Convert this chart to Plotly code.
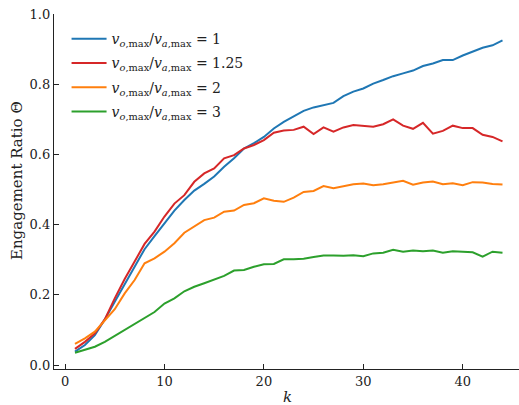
import plotly.graph_objects as go

k = list(range(1, 45))

theta_v1 = [0.038, 0.057, 0.085, 0.13, 0.18, 0.23, 0.28, 0.33, 0.367, 0.405,
            0.44, 0.47, 0.497, 0.516, 0.537, 0.565, 0.589, 0.617, 0.632, 0.65,
            0.674, 0.693, 0.709, 0.724, 0.734, 0.741, 0.747, 0.766, 0.779, 0.788,
            0.802, 0.812, 0.823, 0.831, 0.839, 0.852, 0.859, 0.869, 0.869, 0.882,
            0.892, 0.904, 0.911, 0.925]

theta_v125 = [0.046, 0.066, 0.09, 0.13, 0.19, 0.245, 0.295, 0.345, 0.38, 0.423,
              0.46, 0.484, 0.522, 0.546, 0.56, 0.589, 0.598, 0.617, 0.627, 0.641,
              0.662, 0.668, 0.67, 0.679, 0.658, 0.677, 0.665, 0.677, 0.684, 0.682,
              0.679, 0.686, 0.7, 0.682, 0.673, 0.69, 0.659, 0.667, 0.682, 0.675,
              0.675, 0.656, 0.65, 0.637]

theta_v2 = [0.06, 0.076, 0.095, 0.126, 0.159, 0.204, 0.242, 0.29, 0.304, 0.323,
            0.347, 0.377, 0.394, 0.413, 0.42, 0.437, 0.44, 0.456, 0.461, 0.475,
            0.468, 0.465, 0.477, 0.493, 0.496, 0.51, 0.504, 0.509, 0.515, 0.517,
            0.512, 0.515, 0.52, 0.525, 0.514, 0.52, 0.523, 0.515, 0.518, 0.512,
            0.521, 0.52, 0.516, 0.514]

theta_v3 = [0.035, 0.043, 0.052, 0.066, 0.083, 0.10, 0.117, 0.133, 0.151, 0.175,
            0.19, 0.21, 0.223, 0.233, 0.244, 0.254, 0.269, 0.271, 0.28, 0.287,
            0.288, 0.301, 0.301, 0.303, 0.308, 0.312, 0.312, 0.311, 0.313, 0.31,
            0.318, 0.32, 0.328, 0.323, 0.326, 0.324, 0.326, 0.32, 0.324, 0.322,
            0.321, 0.309, 0.323, 0.32]

series_names = [
    "<i>v</i><sub><i>o</i>,max</sub>/<i>v</i><sub><i>a</i>,max</sub> = 1",
    "<i>v</i><sub><i>o</i>,max</sub>/<i>v</i><sub><i>a</i>,max</sub> = 1.25",
    "<i>v</i><sub><i>o</i>,max</sub>/<i>v</i><sub><i>a</i>,max</sub> = 2",
    "<i>v</i><sub><i>o</i>,max</sub>/<i>v</i><sub><i>a</i>,max</sub> = 3",
]
series_values = [theta_v1, theta_v125, theta_v2, theta_v3]
colors = ["#1f77b4", "#d62728", "#ff7f0e", "#2ca02c"]

x_ticks = [0, 10, 20, 30, 40]
y_ticks = [0.0, 0.2, 0.4, 0.6, 0.8, 1.0]
y_tick_labels = ["0.0", "0.2", "0.4", "0.6", "0.8", "1.0"]

font_family = "DejaVu Serif, Liberation Serif, serif"

fig = go.Figure()
for i, (name, vals, c) in enumerate(zip(series_names, series_values, colors)):
    fig.add_trace(go.Scatter(x=k, y=vals, mode="lines", name=name,
                             legendgroup=f"g{i}",
                             line=dict(color=c, width=2)))

axis_common = dict(
    showline=True, linecolor="#222222", linewidth=1.3,
    ticks="inside", ticklen=5, tickwidth=1, tickcolor="#222222",
    showgrid=False, zeroline=False, mirror=False, automargin=False,
    ticklabeloverflow="allow",
    tickfont=dict(family=font_family, size=13, color="#222222"),
)

fig.update_layout(
    width=519, height=405,
    margin=dict(l=54, r=0, t=14, b=36, autoexpand=False),
    paper_bgcolor="white", plot_bgcolor="white",
    font=dict(family=font_family, size=13, color="#222222"),
    showlegend=True,
    legend=dict(x=0.027, y=0.974, xanchor="left", yanchor="top",
                bgcolor="rgba(255,255,255,0)", borderwidth=0,
                font=dict(family=font_family, size=14, color="#222222"),
                tracegroupgap=3, itemwidth=35),
    xaxis=dict(range=[-1.11, 45.66], tickvals=x_ticks, **axis_common),
    yaxis=dict(range=[-0.0114, 1.0002], tickvals=y_ticks, ticktext=y_tick_labels,
               **axis_common),
    annotations=[
        dict(text="<i>k</i>", xref="paper", yref="paper",
             x=(287 - 54) / 465, y=(369 - 397) / 355,
             xanchor="center", yanchor="middle", showarrow=False,
             font=dict(family=font_family, size=15, color="#222222")),
        dict(text="Engagement Ratio Θ", xref="paper", yref="paper",
             x=(17 - 54) / 465, y=(369 - 181) / 355, textangle=-90,
             xanchor="center", yanchor="middle", showarrow=False,
             font=dict(family=font_family, size=15, color="#222222")),
    ],
)

# remove the browser's default 8px body margin so the figure sits at (0, 0)
fig.write_html("out.html",
               config={"displayModeBar": False},
               post_script="document.body.style.margin='0';"
                           "document.body.style.padding='0';")
